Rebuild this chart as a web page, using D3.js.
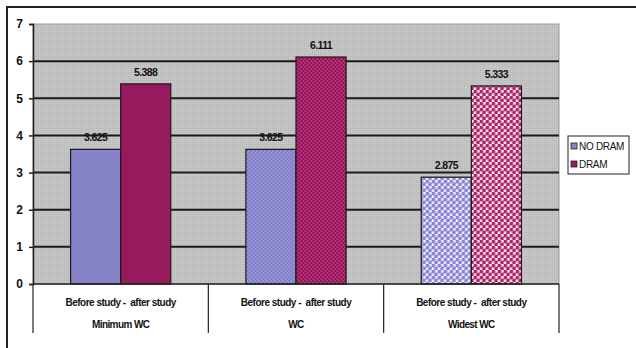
<!DOCTYPE html>
<html>
<head>
<meta charset="utf-8">
<script src="https://cdn.jsdelivr.net/npm/d3@7/dist/d3.min.js"></script>
<style>
  html, body { margin: 0; padding: 0; background: #fff; }
  svg { display: block; }
  text { font-family: "Liberation Sans", Arial, sans-serif; white-space: pre; }
</style>
</head>
<body>
<svg id="chart" width="636" height="348"></svg>
<script>
// Chart data
const groups = ["Minimum WC", "WC", "Widest WC"];
const subLabel = "Before study -  after study";
const seriesNames = ["NO DRAM", "DRAM"];
const noDram = [3.625, 3.625, 2.875];
const dram = [5.388, 6.111, 5.333];
const yTicks = [0, 1, 2, 3, 4, 5, 6, 7];

const svg = d3.select("#chart");
const defs = svg.append("defs");

// Fill patterns: solid, fine checker, dotted — one per group
function solid(id, c) {
  const p = defs.append("pattern").attr("id", id).attr("patternUnits", "userSpaceOnUse")
    .attr("width", 4).attr("height", 4);
  p.append("rect").attr("width", 4).attr("height", 4).attr("fill", c);
}
function checker(id, a, b) {
  const p = defs.append("pattern").attr("id", id).attr("patternUnits", "userSpaceOnUse")
    .attr("width", 4).attr("height", 4);
  p.append("rect").attr("width", 4).attr("height", 4).attr("fill", a);
  p.append("rect").attr("width", 2).attr("height", 2).attr("fill", b);
  p.append("rect").attr("x", 2).attr("y", 2).attr("width", 2).attr("height", 2).attr("fill", b);
}
function dots(id, bg, c) {
  const p = defs.append("pattern").attr("id", id).attr("patternUnits", "userSpaceOnUse")
    .attr("width", 6).attr("height", 6);
  p.append("rect").attr("width", 6).attr("height", 6).attr("fill", bg);
  p.append("circle").attr("cx", 1.5).attr("cy", 1.5).attr("r", 2.1).attr("fill", c);
  p.append("circle").attr("cx", 4.5).attr("cy", 4.5).attr("r", 2.1).attr("fill", c);
}
function grain(id) {
  const p = defs.append("pattern").attr("id", id).attr("patternUnits", "userSpaceOnUse")
    .attr("width", 2).attr("height", 2);
  p.append("rect").attr("width", 2).attr("height", 2).attr("fill", "#c2c2c2");
  p.append("rect").attr("width", 1).attr("height", 1).attr("fill", "#b8b8b8");
  p.append("rect").attr("x", 1).attr("y", 1).attr("width", 1).attr("height", 1).attr("fill", "#cacaca");
}
solid("nd0", "#8683c6");
solid("d0", "#981a5e");
checker("nd1", "#9a98d8", "#7c7ac4");
checker("d1", "#c0307e", "#861652");
dots("nd2", "#f2f2fa", "#8884d4");
dots("d2", "#f6eef2", "#ae2468");
grain("bg");

const fills = [["nd0", "d0"], ["nd1", "d1"], ["nd2", "d2"]];

// Outer frame
svg.append("line").attr("x1", 6).attr("x2", 636).attr("y1", 7).attr("y2", 7)
  .attr("stroke", "#222").attr("stroke-width", 2);
svg.append("line").attr("x1", 7).attr("x2", 7).attr("y1", 6).attr("y2", 348)
  .attr("stroke", "#222").attr("stroke-width", 2);

const plotLeft = 33, plotRight = 559, plotTop = 24, plotBottom = 284;

const x = d3.scaleBand().domain(groups).range([plotLeft, plotRight]).paddingInner(0).paddingOuter(0);
const x1 = d3.scaleBand().domain(seriesNames).range([0, x.bandwidth()]).paddingInner(0).paddingOuter(0.75);
const y = d3.scaleLinear().domain([0, 7]).range([plotBottom, plotTop]);

// Plot background
svg.append("rect").attr("x", plotLeft).attr("y", plotTop)
  .attr("width", plotRight - plotLeft).attr("height", plotBottom - plotTop)
  .attr("fill", "url(#bg)").attr("stroke", "#999").attr("stroke-width", 1);

// Gridlines
svg.append("g").selectAll("line").data(yTicks.filter(d => d > 0 && d < 7)).join("line")
  .attr("x1", plotLeft).attr("x2", plotRight).attr("y1", d => y(d)).attr("y2", d => y(d))
  .attr("stroke", "#1a1a1a").attr("stroke-width", 2);

// Y axis
const yAxis = svg.append("g").attr("transform", `translate(${plotLeft},0)`)
  .call(d3.axisLeft(y).tickValues(yTicks).tickSize(4).tickPadding(6).tickFormat(d3.format("d")));
yAxis.select(".domain").attr("stroke", "#222").attr("stroke-width", 1.5);
yAxis.selectAll(".tick line").attr("stroke", "#222").attr("stroke-width", 1.5);
yAxis.selectAll(".tick text").attr("font-size", 12).attr("font-weight", "bold").attr("fill", "#111")
  .attr("font-family", "'Liberation Sans', Arial, sans-serif");

// Bars
const rows = groups.map((g, i) => ({ g, i, vals: [noDram[i], dram[i]] }));
const gGroups = svg.append("g").selectAll("g").data(rows).join("g")
  .attr("transform", d => `translate(${x(d.g)},0)`);

gGroups.selectAll("rect").data(d => d.vals.map((v, j) => ({ v, j, i: d.i }))).join("rect")
  .attr("x", d => x1(seriesNames[d.j]))
  .attr("y", d => y(d.v))
  .attr("width", x1.bandwidth())
  .attr("height", d => y(0) - y(d.v))
  .attr("fill", d => `url(#${fills[d.i][d.j]})`)
  .attr("stroke", "#1a1a1a").attr("stroke-width", 1.2);

gGroups.selectAll("text.val").data(d => d.vals.map((v, j) => ({ v, j }))).join("text")
  .attr("class", "val")
  .attr("x", d => x1(seriesNames[d.j]) + x1.bandwidth() / 2)
  .attr("y", d => y(d.v) - 8)
  .attr("text-anchor", "middle")
  .attr("font-size", 10.5).attr("font-weight", "bold").attr("fill", "#111")
  .attr("letter-spacing", -0.6)
  .text(d => d3.format(".3f")(d.v));

// Category axis
svg.append("line").attr("x1", plotLeft).attr("x2", plotRight).attr("y1", plotBottom).attr("y2", plotBottom)
  .attr("stroke", "#222").attr("stroke-width", 1.5);
const dividers = groups.map(g => x(g)).concat([plotRight]);
svg.append("g").selectAll("line").data(dividers).join("line")
  .attr("x1", d => d).attr("x2", d => d).attr("y1", plotBottom).attr("y2", 333)
  .attr("stroke", "#222").attr("stroke-width", 1.2);

const catLabels = svg.append("g").selectAll("g").data(groups).join("g")
  .attr("transform", d => `translate(${x(d) + x.bandwidth() / 2},0)`);
catLabels.append("text").attr("y", 306).attr("text-anchor", "middle")
  .attr("font-size", 10).attr("font-weight", "bold").attr("fill", "#111")
  .attr("letter-spacing", -0.5).text(subLabel);
catLabels.append("text").attr("y", 328).attr("text-anchor", "middle")
  .attr("font-size", 10).attr("font-weight", "bold").attr("fill", "#111")
  .attr("letter-spacing", -0.6).text(d => d);

// Legend
const legend = svg.append("g").attr("transform", "translate(568,136)");
legend.append("rect").attr("width", 61).attr("height", 38).attr("fill", "#fff")
  .attr("stroke", "#222").attr("stroke-width", 1);
const legendFill = ["#8683c6", "#981a5e"];
const li = legend.selectAll("g").data(seriesNames).join("g")
  .attr("transform", (d, i) => `translate(3,${10 + i * 18})`);
li.append("rect").attr("x", 0).attr("y", -3).attr("width", 6).attr("height", 6)
  .attr("fill", (d, i) => legendFill[i]).attr("stroke", "#222").attr("stroke-width", 0.8);
li.append("text").attr("x", 8).attr("y", 4).attr("font-size", 10).attr("fill", "#111")
  .attr("letter-spacing", -0.3).text(d => d);
</script>
</body>
</html>
